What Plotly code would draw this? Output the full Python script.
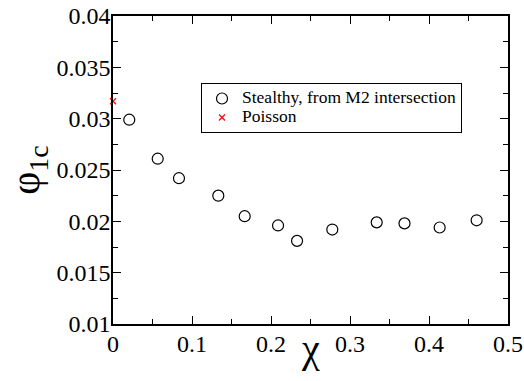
import plotly.graph_objects as go

chi = [0.0206, 0.0566, 0.0835, 0.1333, 0.1667, 0.2089, 0.2330, 0.2776, 0.3338, 0.3690, 0.4135, 0.4603]
phi = [0.0299, 0.0261, 0.0242, 0.0225, 0.0205, 0.0196, 0.0181, 0.0192, 0.0199, 0.0198, 0.0194, 0.0201]
poisson_chi = [0.0]
poisson_phi = [0.0317]

series_names = ["Stealthy, from M2 intersection", "Poisson"]

xticks = [0, 0.1, 0.2, 0.3, 0.4, 0.5]
xticklabels = ["0", "0.1", "0.2", "0.3", "0.4", "0.5"]
yticks = [0.01, 0.015, 0.02, 0.025, 0.03, 0.035, 0.04]
yticklabels = ["0.01", "0.015", "0.02", "0.025", "0.03", "0.035", "0.04"]

x_title = "χ"
y_title = "φ<sub>1c</sub>"

FONT = "Liberation Serif"


def legend_name(s):
    return "<span style='font-size:17.5px'>" + s + "</span>"


fig = go.Figure()
fig.add_trace(go.Scatter(
    x=chi, y=phi, mode="markers", name=legend_name(series_names[0]),
    marker=dict(symbol="circle-open", size=11, color="black", line=dict(width=1.2, color="black")),
))
fig.add_trace(go.Scatter(
    x=poisson_chi, y=poisson_phi, mode="markers", name=legend_name(series_names[1]),
    marker=dict(symbol="x-thin-open", size=6, color="red", line=dict(width=1.2, color="red")),
    cliponaxis=False,
))

axis_common = dict(
    showline=True, linecolor="black", linewidth=1.5, mirror="allticks",
    ticks="inside", ticklen=8, tickwidth=1.2, tickcolor="black",
    showgrid=False, zeroline=False, automargin=False,
    tickfont=dict(family=FONT, size=24, color="black"),
)

fig.update_xaxes(
    range=[0, 0.5], tickvals=xticks, ticktext=xticklabels,
    minor=dict(ticks="inside", ticklen=5, tickwidth=1, tickcolor="black", dtick=0.05, showgrid=False),
    ticklabelstandoff=-3,
    **axis_common,
)
fig.update_yaxes(
    range=[0.01, 0.04], tickvals=yticks, ticktext=yticklabels,
    minor=dict(ticks="inside", ticklen=5, tickwidth=1, tickcolor="black", dtick=0.0025, showgrid=False),
    title=dict(text=y_title, font=dict(family=FONT, size=40, color="black"), standoff=4),
    ticklabelstandoff=-4,
    **axis_common,
)

fig.add_annotation(
    text=x_title, xref="paper", yref="paper", x=0.5, y=0,
    xanchor="center", yanchor="top", yshift=0, showarrow=False,
    font=dict(family=FONT, size=40, color="black"),
)

fig.update_layout(
    width=524, height=381,
    margin=dict(l=113, r=16, t=16, b=57),
    paper_bgcolor="white", plot_bgcolor="white",
    font=dict(family=FONT, color="black"),
    showlegend=True,
    legend=dict(
        x=0.2228, y=0.7825, xanchor="left", yanchor="top",
        bordercolor="black", borderwidth=1, bgcolor="white",
        font=dict(family=FONT, size=12, color="black"),
        itemwidth=30, tracegroupgap=0,
    ),
)

fig.write_html("out.html")
